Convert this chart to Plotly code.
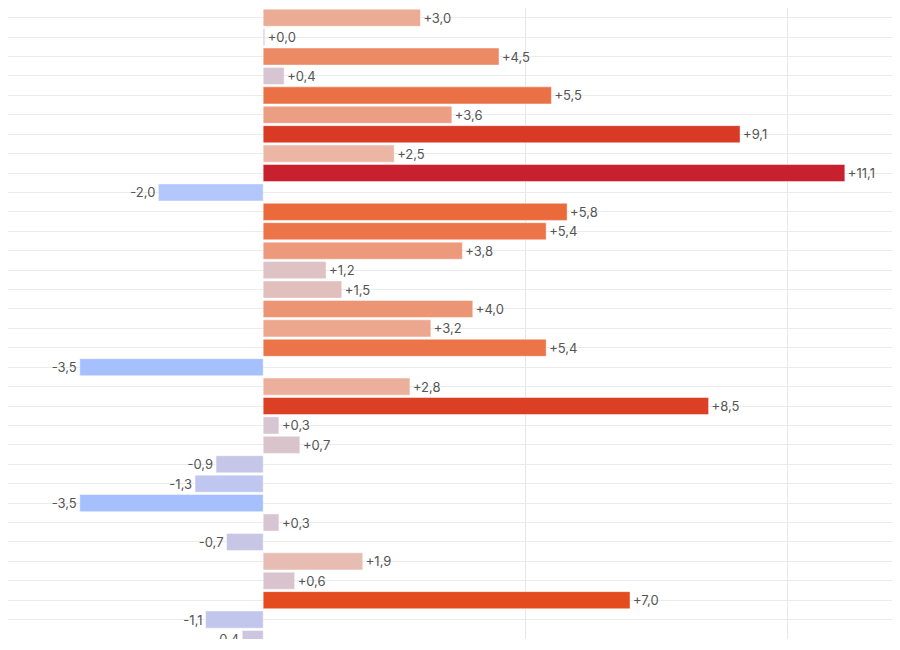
import plotly.graph_objects as go

# values, top to bottom
changes = [3.0, 0.03, 4.5, 0.4, 5.5, 3.6, 9.1, 2.5, 11.1, -2.0,
           5.8, 5.4, 3.8, 1.2, 1.5, 4.0, 3.2, 5.4, -3.5, 2.8,
           8.5, 0.3, 0.7, -0.9, -1.3, -3.5, 0.3, -0.7, 1.9, 0.6,
           7.0, -1.1, -0.4]
rows = list(range(len(changes)))
labels = [f"{v:+.1f}".replace(".", ",") for v in changes]

# diverging scale: blue (falls) -> neutral mauve -> red (rises)
c_min, c_max = -3.5, 11.1
anchors = [(-3.5, "#a6bffd"), (-2.0, "#b4c7fa"), (-1.0, "#c4c6ea"),
           (0.0, "#d4c6d8"), (1.2, "#dec2c4"), (2.5, "#ecb6a4"),
           (4.5, "#ec8a66"), (5.8, "#ea6a3c"), (7.0, "#e44c20"),
           (9.1, "#d83a26"), (11.1, "#c8202e")]
scale = [[(v - c_min) / (c_max - c_min), c] for v, c in anchors]

fig = go.Figure(go.Bar(
    x=changes, y=rows, orientation="h",
    width=0.88,
    marker=dict(color=changes, colorscale=scale, cmin=c_min, cmax=c_max,
                line=dict(color="rgba(255,255,255,0.45)", width=1)),
    text=labels, textposition="outside", cliponaxis=True,
    textfont=dict(family="Inter", size=13, color="#555555"),
    hoverinfo="skip",
))

# page adds an 8px body margin, so the plot area starts at the figure edge
fig.update_xaxes(range=[-4.87, 12], tickvals=[-5, 5, 10], showticklabels=False,
                 showgrid=True, gridcolor="#e8e8e8", zeroline=False,
                 showline=False)
fig.update_yaxes(range=[32, -0.5], dtick=1, showticklabels=False,
                 showgrid=True, gridcolor="#ebebeb", zeroline=False,
                 showline=False)

fig.update_layout(
    width=900, height=650,
    margin=dict(l=0, r=16, t=0, b=19),
    plot_bgcolor="white", paper_bgcolor="white",
    separators=", ",
    showlegend=False,
    uniformtext=dict(minsize=13, mode="show"),
)
fig.write_html("out.html")
